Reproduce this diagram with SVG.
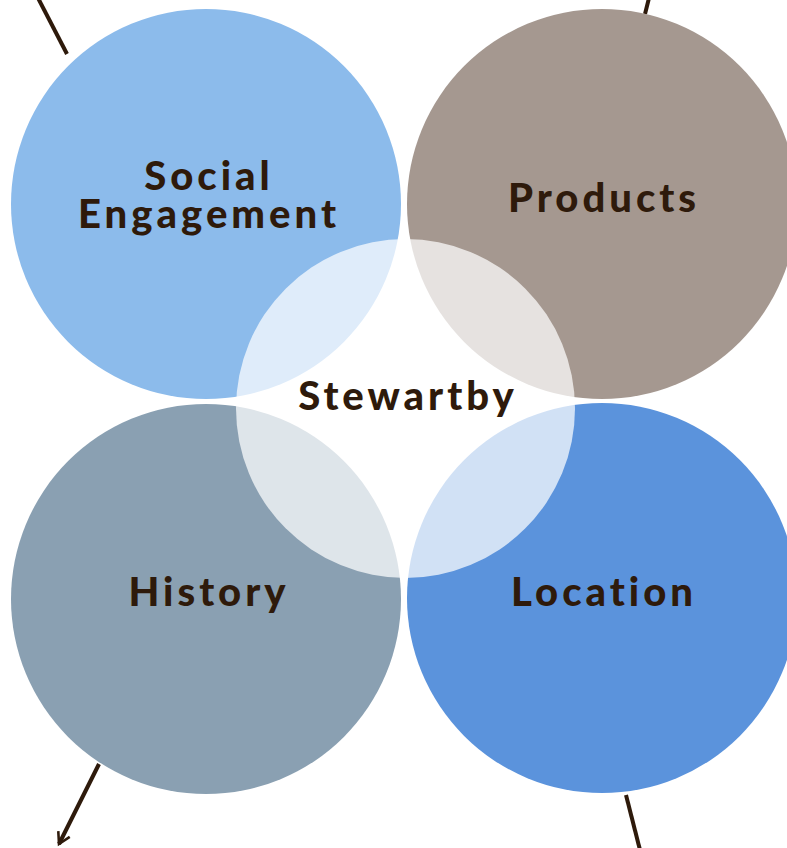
<svg xmlns="http://www.w3.org/2000/svg" width="787" height="848" viewBox="0 0 787 848">
<style>
.lbl{font-family:"Lato","Liberation Sans",sans-serif;font-weight:900;font-size:40px;fill:#2E1A0B;text-anchor:middle;letter-spacing:4px}
.conn{stroke:#2E1A0B;stroke-width:4;fill:none;stroke-linecap:butt}
</style>
<defs>
<marker id="arr" viewBox="0 0 10 10" refX="8" refY="5" markerWidth="4" markerHeight="4" orient="auto" markerUnits="strokeWidth">
<path d="M1,1 L8,5 L1,9" fill="none" stroke="#2E1A0B" stroke-width="1.6"/>
</marker>
</defs>
<rect width="787" height="848" fill="#FFFFFF"/>
<g id="connectors">
<line class="conn" x1="38" y1="-2" x2="67" y2="54"/>
<line class="conn" x1="649" y1="-2" x2="645" y2="14"/>
<line class="conn" x1="99" y1="764" x2="59" y2="844" marker-end="url(#arr)"/>
<line class="conn" x1="626" y1="795" x2="640" y2="850"/>
</g>
<g id="social"><circle cx="206" cy="204" r="195" fill="#8CBBEB"/></g>
<g id="products"><circle cx="602" cy="204" r="195" fill="#A59890"/></g>
<g id="history"><circle cx="206" cy="599" r="195" fill="#8AA0B2"/></g>
<g id="location"><circle cx="602" cy="598" r="195" fill="#5B93DC"/></g>
<g id="stewartby"><circle cx="405.5" cy="408.5" r="169.5" fill="#FFFFFF" fill-opacity="0.72"/>
<text class="lbl" x="408" y="410">Stewartby</text></g>
<g id="labels">
<text class="lbl" x="209" y="190">Social</text>
<text class="lbl" x="209" y="228">Engagement</text>
<text class="lbl" x="604" y="212">Products</text>
<text class="lbl" x="209" y="606">History</text>
<text class="lbl" x="604" y="606">Location</text>
</g>
</svg>
